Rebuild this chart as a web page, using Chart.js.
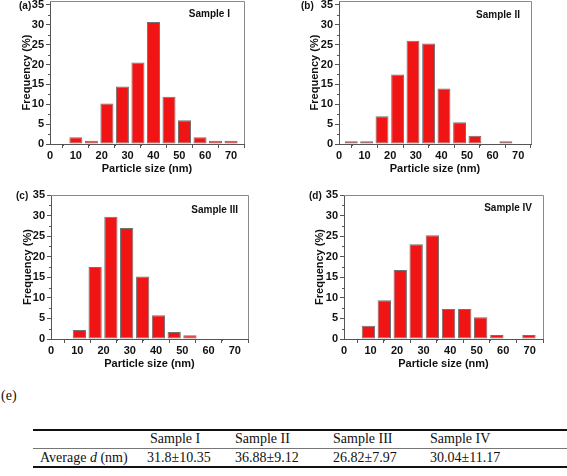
<!DOCTYPE html>
<html><head><meta charset="utf-8">
<script src="https://cdn.jsdelivr.net/npm/chart.js@4.4.0/dist/chart.umd.min.js"></script>
<style>
html,body{margin:0;padding:0;background:#fff;}
body{width:567px;height:476px;position:relative;overflow:hidden;}
canvas{position:absolute;}
.lbl{position:absolute;font-family:"Liberation Sans",Arial,sans-serif;font-weight:bold;color:#111;line-height:1;white-space:nowrap;}
.tb{position:absolute;font-family:"Liberation Serif","Times New Roman",serif;font-size:14px;color:#111;line-height:1;white-space:nowrap;}
.rule{position:absolute;left:33px;width:534px;background:#111;}
</style></head><body>
<canvas id="cA" width="284" height="180" style="left:0;top:0"></canvas>
<canvas id="cB" width="283" height="180" style="left:284px;top:0"></canvas>
<canvas id="cC" width="284" height="196" style="left:0;top:180px"></canvas>
<canvas id="cD" width="283" height="196" style="left:284px;top:180px"></canvas>

<div class="lbl" style="left:19px;top:1px;font-size:10px">(a)</div>
<div class="lbl" style="left:301px;top:1px;font-size:10px">(b)</div>
<div class="lbl" style="left:16px;top:191px;font-size:10px">(c)</div>
<div class="lbl" style="left:309px;top:191px;font-size:10px">(d)</div>
<div class="lbl" style="right:337px;top:9px;font-size:10px">Sample I</div>
<div class="lbl" style="right:47px;top:10px;font-size:10px">Sample II</div>
<div class="lbl" style="right:329px;top:205px;font-size:10px">Sample III</div>
<div class="lbl" style="right:35px;top:203px;font-size:10px">Sample IV</div>

<div class="tb" style="left:1px;top:389px">(e)</div>
<div class="rule" style="top:429px;height:2px"></div>
<div class="rule" style="top:448px;height:1px;background:#777"></div>
<div class="rule" style="top:466px;height:2px"></div>
<div id="tbl"></div>

<script>
// ---- data ----
const xTicks = [0, 10, 20, 30, 40, 50, 60, 70];
const yTicks = [0, 5, 10, 15, 20, 25, 30, 35];
const xMinor = [5, 15, 25, 35, 45, 55, 65];
const yMinor = [2.5, 7.5, 12.5, 17.5, 22.5, 27.5, 32.5];

const sizesA = [10, 16, 22, 28, 34, 40, 46, 52, 58, 64, 70];
const freqA  = [1.7, 0.8, 10.2, 14.5, 20.5, 30.7, 11.9, 6.0, 1.7, 0.8, 0.8];

const sizesB = [4.8, 10.8, 16.8, 22.9, 28.9, 35.0, 41.0, 47.1, 53.1, 59.1, 65.2];
const freqB  = [0.7, 0.7, 7.0, 17.5, 26.0, 25.3, 14.0, 5.5, 2.1, 0, 0.7];

const sizesC = [10.8, 16.8, 22.8, 28.8, 34.9, 40.9, 46.9, 52.9];
const freqC  = [2.2, 17.5, 29.7, 27.0, 15.2, 5.8, 1.7, 0.9];

const sizesD = [9.2, 15.2, 21.2, 27.2, 33.3, 39.4, 45.5, 51.5, 57.6, 63.6, 69.7];
const freqD  = [3.2, 9.4, 16.8, 23.0, 25.2, 7.3, 7.3, 5.3, 1.0, 0, 1.0];

const tableHeader = ['', 'Sample I', 'Sample II', 'Sample III', 'Sample IV'];
const tableRowLabel = 'Average <i>d</i> (nm)';
const tableValues = ['31.8±10.35', '36.88±9.12', '26.82±7.97', '30.04±11.17'];

// ---- table ----
const colX = [40, 150, 235, 333, 430];
const valX = [147, 235, 333, 430];
let html = '';
tableHeader.forEach((t, i) => { if (t) html += `<div class="tb" style="left:${colX[i]}px;top:432px">${t}</div>`; });
html += `<div class="tb" style="left:${colX[0]}px;top:451px">${tableRowLabel}</div>`;
tableValues.forEach((t, i) => { html += `<div class="tb" style="left:${valX[i]}px;top:451px">${t}</div>`; });
document.getElementById('tbl').innerHTML = html;

// ---- charts ----
const FONT = '"Liberation Sans", Arial, sans-serif';
const axisCol = '#555';

const framePlugin = {
  id: 'frame',
  afterDraw(chart) {
    const {ctx, chartArea: a, scales: {x, y}} = chart;
    ctx.save();
    ctx.strokeStyle = '#8a8a8a';
    ctx.lineWidth = 1;
    ctx.beginPath();
    ctx.moveTo(a.left, a.top + 0.5); ctx.lineTo(a.right + 0.5, a.top + 0.5);
    ctx.lineTo(a.right + 0.5, a.bottom);
    ctx.stroke();
    ctx.strokeStyle = axisCol;
    ctx.beginPath();
    yMinor.forEach(v => { const py = Math.round(y.getPixelForValue(v)) + 0.5; ctx.moveTo(a.left - 2, py); ctx.lineTo(a.left, py); });
    xMinor.forEach(v => { const px = Math.round(x.getPixelForValue(v)) + 0.5; ctx.moveTo(px, a.bottom); ctx.lineTo(px, a.bottom + 2); });
    ctx.stroke();
    ctx.restore();
  }
};

function makeChart(id, sizes, freq, g) {
  new Chart(document.getElementById(id), {
    type: 'bar',
    data: { datasets: [{
      data: sizes.map((s, i) => ({x: s, y: freq[i]})),
      backgroundColor: '#f01414',
      borderColor: '#727272',
      borderWidth: 1,
      borderSkipped: false,
      barPercentage: 0.84,
      categoryPercentage: 1
    }]},
    options: {
      responsive: false, animation: false, devicePixelRatio: 1,
      layout: { padding: {left: 0, top: g.top, right: g.right, bottom: 0} },
      plugins: { legend: {display: false}, tooltip: {enabled: false} },
      scales: {
        x: {
          type: 'linear', min: 0, max: 75, offset: false,
          afterBuildTicks: s => { s.ticks = xTicks.map(v => ({value: v})); },
          afterFit: s => { s.height = g.xh; s.paddingLeft = 0; s.paddingRight = 0; },
          ticks: { font: {family: FONT, size: 11, weight: 'bold'}, color: '#111', padding: 1, maxRotation: 0, autoSkip: false },
          grid: { drawOnChartArea: false, drawTicks: true, tickLength: 4, color: axisCol },
          border: { display: true, color: axisCol, width: 1 },
          title: { display: true, text: 'Particle size (nm)', color: '#111',
                   font: {family: FONT, size: 11, weight: 'bold'}, padding: {top: 0, bottom: g.xtp} }
        },
        y: {
          min: 0, max: g.ymax,
          afterBuildTicks: s => { s.ticks = yTicks.map(v => ({value: v})); },
          afterFit: s => { s.width = g.yw; s.paddingTop = 0; s.paddingBottom = 0; },
          ticks: { font: {family: FONT, size: 11, weight: 'bold'}, color: '#111', padding: 2 },
          grid: { drawOnChartArea: false, drawTicks: true, tickLength: 4, color: axisCol },
          border: { display: true, color: axisCol, width: 1 },
          title: { display: true, text: 'Frequency (%)', color: '#111',
                   font: {family: FONT, size: 11, weight: 'bold'}, padding: {top: g.ytp, bottom: 0} }
        }
      }
    },
    plugins: [framePlugin]
  });
}

makeChart('cA', sizesA, freqA, {top: 1, right: 40, xh: 36, yw: 50, ymax: 36, xtp: 4.4, ytp: 20.4});
makeChart('cB', sizesB, freqB, {top: 1, right: 36, xh: 36, yw: 55, ymax: 36, xtp: 4.4, ytp: 24.4});
makeChart('cC', sizesC, freqC, {top: 15, right: 36, xh: 37, yw: 51, ymax: 35, xtp: 5.4, ytp: 20.9});
makeChart('cD', sizesD, freqD, {top: 15, right: 24, xh: 37, yw: 60, ymax: 35, xtp: 5.4, ytp: 29.4});
</script>
</body></html>
